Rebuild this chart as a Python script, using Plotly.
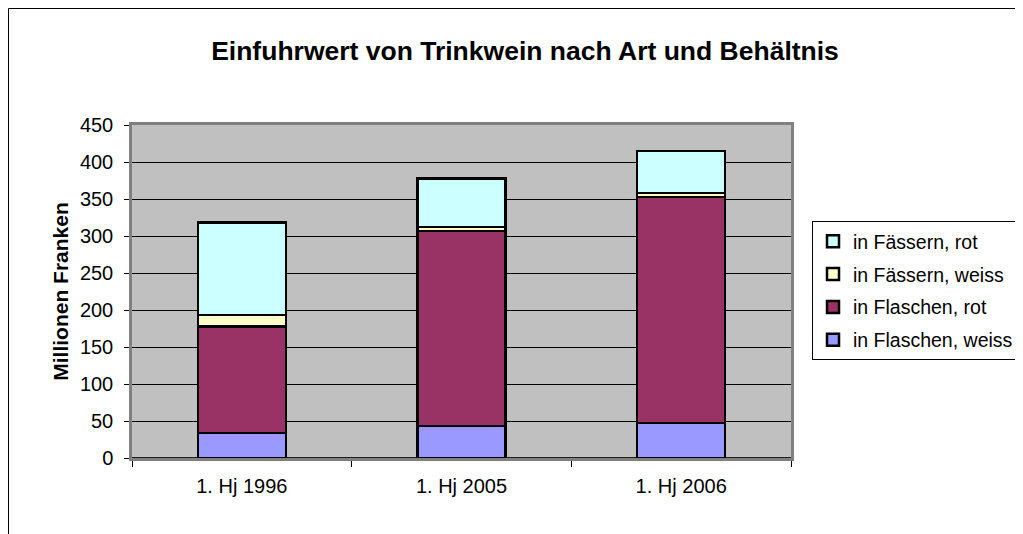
import plotly.graph_objects as go

categories = ["1. Hj 1996", "1. Hj 2005", "1. Hj 2006"]
flaschen_weiss = [34, 43, 47]
flaschen_rot = [144, 264, 306]
faessern_weiss = [15, 5, 5]
faessern_rot = [125, 66, 57]

series = [
    ("in Flaschen, weiss", flaschen_weiss, "#9999FF"),
    ("in Flaschen, rot", flaschen_rot, "#993366"),
    ("in Fässern, weiss", faessern_weiss, "#FFFFCC"),
    ("in Fässern, rot", faessern_rot, "#CCFFFF"),
]

FONT = "Arial, Liberation Sans, sans-serif"

fig = go.Figure()
n = len(series)
for i, (name, vals, col) in enumerate(series):
    fig.add_trace(go.Bar(
        x=categories, y=vals, name=name, legendgroup=f"g{i}",
        legendrank=n - i,
        marker=dict(color=col, line=dict(color="black", width=2.5)),
    ))

# page is offset by the 8px body margin
OFF = 8
W, H = 1015, 526
PL, PR, PT, PB = 132, 791, 125, 458  # plot area in page pixels
L, R, T, B = PL - OFF, W - (PR - OFF), PT - OFF, H - (PB - OFF)
pw, ph = W - L - R, H - T - B


def px(xp):
    return (xp - OFF - L) / pw


def py(yp):
    return (H - B - (yp - OFF)) / ph


fig.update_layout(
    width=W, height=H,
    margin=dict(l=L, r=R, t=T, b=B, autoexpand=False),
    barmode="stack", bargap=0.6,
    paper_bgcolor="white", plot_bgcolor="#C0C0C0",
    font=dict(family=FONT, size=20, color="black"),
    title=dict(text="<b>Einfuhrwert von Trinkwein nach Art und Behältnis</b>",
               x=(525 - OFF) / W, xref="container", xanchor="center",
               y=1 - (51 - OFF) / H, yref="container", yanchor="middle",
               font=dict(size=26.5, family=FONT, color="black")),
    legend=dict(x=px(812), y=py(221), xanchor="left", yanchor="top",
                traceorder="grouped", tracegroupgap=4.5,
                bordercolor="black", borderwidth=1, bgcolor="white",
                font=dict(size=19.5, family=FONT)),
    showlegend=True,
    shapes=[dict(type="rect", xref="paper", yref="paper",
                 x0=px(8.5), x1=px(1060), y0=py(560), y1=py(8.5),
                 line=dict(color="black", width=1), layer="below")],
)

fig.update_yaxes(range=[0, 450], dtick=50, showgrid=True, gridcolor="black", gridwidth=1,
                 showline=True, linecolor="#808080", linewidth=2.5, mirror=True,
                 ticks="outside", ticklen=5, tickcolor="black",
                 zeroline=True, zerolinecolor="#202020", zerolinewidth=2,
                 ticklabelstandoff=7,
                 title=dict(text="<b>Millionen Franken</b>", standoff=6,
                            font=dict(size=21, family=FONT)),
                 fixedrange=True)
fig.update_xaxes(showline=True, linecolor="#808080", linewidth=2.5, mirror=True,
                 ticks="outside", ticklen=6, tickcolor="black", tickson="boundaries",
                 ticklabelstandoff=8,
                 showgrid=False, fixedrange=True)

fig.write_html("out.html")
